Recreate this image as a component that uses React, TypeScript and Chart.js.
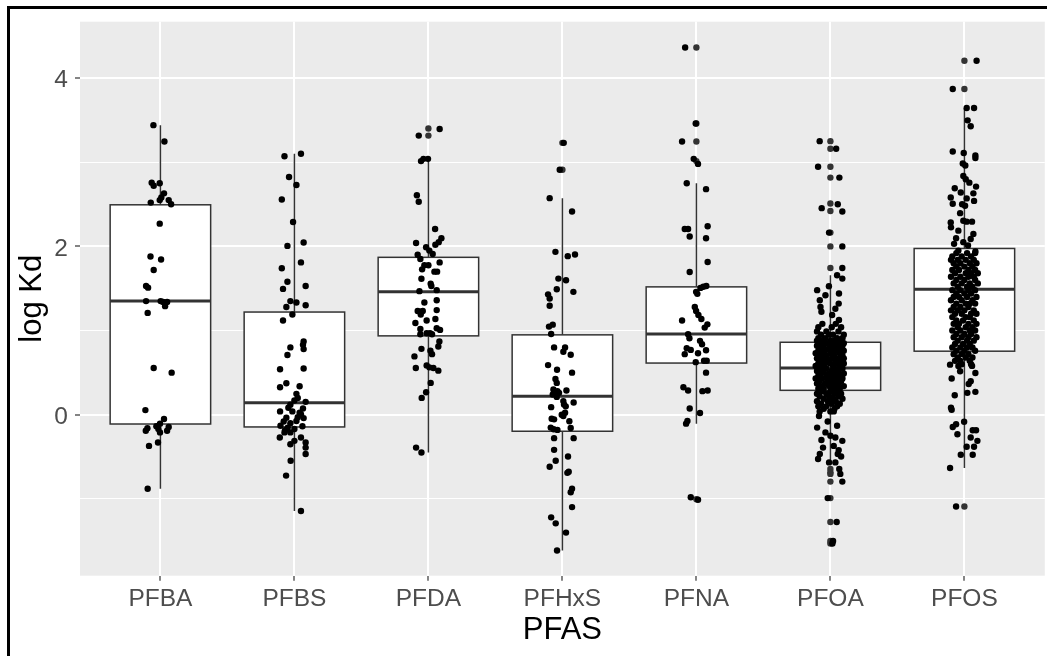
import React, { useEffect, useRef } from "react";
import { Chart, registerables } from "chart.js";

Chart.register(...registerables);

const categories = ["PFBA", "PFBS", "PFDA", "PFHxS", "PFNA", "PFOA", "PFOS"];
const yTickValues = [-1, 0, 1, 2, 3, 4];
const yTickLabels = ["", "0", "", "2", "", "4"];
const xTitle = "PFAS";
const yTitle = "log Kd";

// box statistics per category
const whiskerLow = [-0.88, -1.144, -0.448, -1.612, -0.106, -0.566, -0.633];
const q1 = [-0.11, -0.145, 0.937, -0.196, 0.614, 0.29, 0.755];
const median = [1.35, 0.142, 1.46, 0.22, 0.96, 0.555, 1.49];
const q3 = [2.494, 1.22, 1.87, 0.949, 1.519, 0.861, 1.975];
const whiskerHigh = [3.44, 3.1, 3.04, 2.573, 2.75, 1.657, 3.643];

// boxplot outliers (drawn on the category centre)
const pfbaOutliers: number[] = [];
const pfbsOutliers: number[] = [];
const pfdaOutliers = [3.4, 3.316];
const pfhxsOutliers = [3.23, 2.91];
const pfnaOutliers = [4.362, 3.46, 3.245, 3.013, -1.003];
const pfoaOutliers = [3.25, 3.16, 2.946, 2.817, 2.51, 2.42, 2.164, 2.0, 1.743, -0.644, -0.684, -0.703, -0.794, -0.99, -1.274, -1.5, -1.53];
const pfosOutliers = [4.205, 3.87, -1.09];

// jittered observations: [horizontal jitter, log Kd]
type Pt = [number, number];
const pfbaPoints: Pt[] = [
  [-0.052, 3.44], [0.03, 3.245], [-0.065, 2.757], [-0.05, 2.72], [-0.005, 2.75], [0.027, 2.63], [0.007, 2.58],
  [-0.005, 2.55], [0.062, 2.55], [-0.072, 2.52], [0.08, 2.5], [-0.005, 2.27], [-0.074, 1.88], [0.005, 1.845],
  [-0.05, 1.72], [-0.107, 1.53], [-0.092, 1.51], [-0.107, 1.35], [0.002, 1.35], [0.02, 1.34], [0.05, 1.34],
  [0.035, 1.29], [-0.095, 1.21], [-0.05, 0.555], [0.084, 0.5], [-0.112, 0.055], [0.027, -0.05], [-0.003, -0.106],
  [-0.03, -0.137], [0.062, -0.145], [-0.097, -0.16], [-0.109, -0.19], [-0.015, -0.17], [-0.003, -0.21],
  [0.05, -0.19], [-0.018, -0.33], [-0.085, -0.37], [-0.095, -0.88],
];
const pfbsPoints: Pt[] = [
  [-0.074, 3.07], [0.049, 3.1], [-0.04, 2.825], [0.015, 2.73], [-0.094, 2.557], [-0.01, 2.29], [-0.052, 2.006],
  [0.069, 2.046], [0.049, 1.81], [-0.094, 1.74], [-0.052, 1.58], [0.084, 1.53], [-0.085, 1.495], [-0.03, 1.35],
  [0.015, 1.333], [-0.06, 1.28], [0.084, 1.3], [-0.015, 1.19], [-0.085, 1.12], [0.069, 0.87], [0.064, 0.83],
  [0.069, 0.78], [-0.03, 0.8], [-0.052, 0.71], [-0.107, 0.54], [0.069, 0.55], [-0.06, 0.374], [-0.107, 0.327],
  [0.039, 0.338], [0.015, 0.248], [0.025, 0.2], [0, 0.17], [0.084, 0.153], [-0.03, 0.12], [0.064, 0.075],
  [-0.107, 0.04], [-0.015, 0.04], [0.049, 0.005], [0.025, -0.03], [-0.06, -0.035], [0.069, -0.04], [-0.08, -0.08],
  [-0.03, -0.1], [0.015, -0.075], [-0.104, -0.13], [0.06, -0.137], [-0.05, -0.153], [0, -0.17], [-0.074, -0.21],
  [-0.03, -0.21], [-0.109, -0.27], [0.049, -0.27], [0, -0.31], [0.084, -0.33], [-0.03, -0.35], [0.084, -0.39],
  [0.084, -0.467], [-0.028, -0.546], [-0.062, -0.723], [0.049, -1.144], [-0.07, -0.184], [0.039, 0.024], [-0.045, 0.083],
];
const pfdaPoints: Pt[] = [
  [-0.072, 3.316], [0.084, 3.395], [-0.055, 3.013], [-0.037, 3.04], [-0.003, 3.04], [-0.086, 2.608], [-0.072, 2.53],
  [0.05, 2.207], [0.097, 2.097], [0.077, 2.05], [-0.092, 2.04], [0.052, 2.02], [-0.017, 1.99], [0.007, 1.95],
  [0.032, 1.91], [-0.08, 1.9], [-0.06, 1.85], [0.084, 1.81], [-0.03, 1.775], [0.0, 1.775], [-0.047, 1.727],
  [0.045, 1.7], [0.065, 1.7], [-0.052, 1.616], [0.017, 1.557], [0.022, 1.53], [-0.067, 1.468], [0.062, 1.48],
  [-0.03, 1.333], [0.062, 1.36], [-0.08, 1.232], [-0.06, 1.223], [-0.042, 1.232], [0.062, 1.243], [-0.057, 1.19],
  [-0.097, 1.09], [-0.013, 1.12], [0.052, 1.137], [-0.06, 1.02], [0.062, 1.027], [0.087, 1.008], [-0.06, 0.956],
  [-0.013, 0.968], [0.012, 0.968], [0.027, 0.956], [0.082, 0.87], [0.074, 0.81], [-0.052, 0.783], [0.015, 0.76],
  [0.027, 0.72], [-0.104, 0.693], [-0.013, 0.586], [0.007, 0.563], [-0.094, 0.555], [0.037, 0.555], [0.074, 0.524],
  [0.017, 0.378], [-0.017, 0.268], [-0.05, 0.2], [-0.092, -0.39], [-0.052, -0.448],
];
const pfhxsPoints: Pt[] = [
  [0.01, 3.23], [-0.02, 2.91], [-0.095, 2.573], [0.072, 2.415], [-0.052, 1.935], [0.04, 1.884], [0.094, 1.904],
  [-0.03, 1.617], [0.027, 1.597], [-0.042, 1.49], [0.082, 1.46], [-0.107, 1.43], [-0.095, 1.38], [-0.095, 1.294],
  [-0.1, 1.047], [-0.072, 1.07], [-0.084, 0.96], [-0.062, 0.8], [0.02, 0.8], [0.007, 0.748], [0.062, 0.713],
  [-0.107, 0.59], [-0.04, 0.535], [0.072, 0.5], [-0.052, 0.425], [-0.042, 0.378], [-0.067, 0.3], [-0.052, 0.26],
  [-0.037, 0.28], [-0.072, 0.24], [-0.025, 0.26], [0.03, 0.288], [-0.042, 0.212], [0.007, 0.162], [0.084, 0.146],
  [0.012, 0.123], [-0.084, 0.09], [0.025, 0.1], [0.02, 0.024], [-0.005, 0], [0.007, -0.015], [-0.08, -0.047],
  [-0.062, -0.055], [0.052, -0.078], [-0.087, -0.153], [-0.065, -0.172], [-0.037, -0.18], [0.062, -0.157],
  [-0.062, -0.278], [0.084, -0.278], [-0.062, -0.417], [0.042, -0.496], [-0.05, -0.546], [-0.095, -0.617],
  [0.047, -0.676], [0.037, -0.69], [0.072, -0.88], [0.062, -0.92], [0.072, -1.097], [-0.084, -1.219],
  [-0.05, -1.29], [0.027, -1.4], [-0.04, -1.612],
];
const pfnaPoints: Pt[] = [
  [-0.084, 4.362], [-0.005, 3.46], [-0.107, 3.245], [-0.02, 3.04], [0.012, 2.98], [-0.072, 2.75], [0.072, 2.68],
  [-0.087, 2.207], [-0.062, 2.207], [0.084, 2.24], [-0.05, 2.117], [0.072, 2.097], [0.084, 1.814], [-0.05, 1.696],
  [0.052, 1.52], [0.074, 1.53], [0.03, 1.507], [-0.002, 1.46], [0.007, 1.436], [-0.012, 1.28], [-0.002, 1.232],
  [0.015, 1.185], [-0.107, 1.12], [0.037, 1.137], [0.082, 1.074], [0.062, 1.035], [-0.062, 0.956], [-0.052, 0.909],
  [0.027, 0.878], [0.042, 0.838], [-0.072, 0.79], [-0.042, 0.77], [0.072, 0.767], [-0.087, 0.72], [0.012, 0.73],
  [-0.005, 0.625], [0.057, 0.642], [0.077, 0.642], [0.072, 0.5], [-0.097, 0.327], [-0.062, 0.288], [0.045, 0.28],
  [0.084, 0.288], [-0.05, 0.075], [0.027, 0.02], [-0.067, -0.074], [-0.077, -0.106], [-0.042, -0.98], [0.012, -1.01],
];
const pfoaPoints: Pt[] = [
  [-0.08, 3.25], [0.043, 3.16], [-0.092, 2.946], [0.067, 2.817], [0.055, 2.5], [-0.065, 2.454], [0.089, 2.415],
  [-0.01, 2.164], [0.089, 2.0], [0.089, 1.743], [0.05, 1.657], [0.089, 1.617], [-0.011, 1.527], [-0.099, 1.48],
  [-0.037, 1.42], [0.064, 1.44], [-0.079, 1.36], [0.062, 1.32], [-0.074, 1.28], [0.037, 1.26], [-0.067, 1.224],
  [0.013, 1.185], [0.064, 1.126],
  [-0.06, 1.08], [0.04, 1.08], [-0.09, 1.04], [0.01, 1.04], [0.08, 1.04], [-0.03, 0.99], [0.06, 0.99], [-0.1, 0.99],
  [-0.07, 0.95], [0.02, 0.95], [0.1, 0.95], [-0.01, 0.95], [-0.09, 0.91], [-0.04, 0.91], [0.05, 0.91], [0.09, 0.91],
  [-0.06, 0.88], [0.0, 0.88], [0.07, 0.88], [-0.1, 0.88], [0.03, 0.88], [-0.08, 0.85], [-0.02, 0.85], [0.04, 0.85],
  [0.1, 0.85], [-0.1, 0.82], [-0.05, 0.82], [0.01, 0.82], [0.06, 0.82], [0.09, 0.82], [-0.07, 0.79], [-0.01, 0.79],
  [0.03, 0.79], [0.08, 0.79], [-0.09, 0.76], [-0.04, 0.76], [0.02, 0.76], [0.05, 0.76], [0.1, 0.76], [-0.06, 0.73],
  [0.0, 0.73], [0.07, 0.73], [-0.11, 0.73], [-0.08, 0.7], [-0.03, 0.7], [0.03, 0.7], [0.09, 0.7], [-0.1, 0.67],
  [-0.05, 0.67], [0.01, 0.67], [0.06, 0.67], [0.1, 0.67], [-0.07, 0.64], [-0.02, 0.64], [0.04, 0.64], [0.08, 0.64],
  [-0.09, 0.61], [-0.04, 0.61], [0.0, 0.61], [0.05, 0.61], [0.1, 0.61], [-0.06, 0.58], [0.02, 0.58], [0.07, 0.58],
  [-0.11, 0.58], [-0.08, 0.55], [-0.03, 0.55], [0.03, 0.55], [0.09, 0.55], [-0.1, 0.52], [-0.05, 0.52], [0.01, 0.52],
  [0.06, 0.52], [-0.07, 0.49], [-0.01, 0.49], [0.04, 0.49], [0.1, 0.49], [-0.09, 0.46], [-0.03, 0.46], [0.02, 0.46],
  [0.07, 0.46], [-0.06, 0.43], [0.0, 0.43], [0.05, 0.43], [0.09, 0.43], [-0.11, 0.43], [-0.08, 0.4], [-0.02, 0.4],
  [0.03, 0.4], [0.08, 0.4], [-0.1, 0.37], [-0.04, 0.37], [0.01, 0.37], [0.06, 0.37], [-0.07, 0.34], [-0.01, 0.34],
  [0.04, 0.34], [0.1, 0.34], [-0.09, 0.31], [-0.05, 0.31], [0.02, 0.31], [0.07, 0.31], [-0.06, 0.28], [0.0, 0.28],
  [0.05, 0.28], [-0.1, 0.25], [-0.03, 0.25], [0.03, 0.25], [0.08, 0.25], [-0.08, 0.22], [-0.01, 0.22], [0.06, 0.22],
  [-0.05, 0.19], [0.02, 0.19], [0.09, 0.19], [-0.1, 0.16], [-0.02, 0.16], [0.04, 0.16], [-0.07, 0.13], [0.01, 0.13],
  [0.07, 0.13], [-0.09, 0.1], [-0.03, 0.1], [0.05, 0.1], [-0.05, 0.07], [0.03, 0.07], [-0.08, 0.04], [0.0, 0.04],
  [-0.085, -0.015], [0.025, 0.04], [-0.099, -0.153], [-0.02, -0.08], [0.05, -0.13], [-0.037, -0.21], [0.0, -0.25],
  [0.037, -0.27], [-0.067, -0.3], [0.089, -0.31], [-0.055, -0.39], [0.025, -0.37], [0.062, -0.42], [0.055, -0.467],
  [0.08, -0.496], [-0.079, -0.467], [-0.092, -0.526], [-0.01, -0.566], [0.037, -0.566],
  [0.066, -0.644], [0.074, -0.703], [0.089, -0.794], [-0.02, -0.99], [0.047, -1.274], [0.02, -1.5], [0.015, -1.53],
];
const pfosPoints: Pt[] = [
  [0.091, 4.205], [-0.087, 3.87], [0.017, 3.643], [0.072, 3.643], [0.024, 3.497], [0.047, 3.427], [-0.087, 3.127],
  [-0.005, 3.11], [0.082, 3.08], [0.082, 3.05], [-0.012, 2.985], [0.007, 2.96], [-0.008, 2.836], [0.01, 2.797],
  [0.037, 2.757], [-0.072, 2.69], [0.087, 2.71], [-0.027, 2.64], [0.067, 2.63], [-0.102, 2.58], [0.017, 2.57],
  [0.072, 2.54], [-0.087, 2.506], [-0.017, 2.5], [0.005, 2.483], [-0.032, 2.395], [-0.008, 2.305], [0.017, 2.294],
  [0.057, 2.294], [-0.102, 2.285], [-0.1, 2.226], [-0.045, 2.187], [0.067, 2.148], [-0.062, 2.097], [0.047, 2.088],
  [-0.008, 2.05], [-0.077, 2.03], [0.027, 2.01], [0.082, 1.94], [-0.045, 1.95],
  [-0.06, 1.92], [0.02, 1.92], [0.08, 1.92], [-0.09, 1.88], [-0.02, 1.88], [0.05, 1.88], [-0.05, 1.84], [0.01, 1.84],
  [0.07, 1.84], [-0.1, 1.84], [-0.08, 1.8], [-0.03, 1.8], [0.04, 1.8], [0.09, 1.8], [-0.06, 1.76], [0.0, 1.76],
  [0.06, 1.76], [-0.09, 1.72], [-0.04, 1.72], [0.03, 1.72], [0.08, 1.72], [-0.07, 1.68], [0.01, 1.68], [0.05, 1.68],
  [0.1, 1.68], [-0.1, 1.64], [-0.03, 1.64], [0.03, 1.64], [0.07, 1.64], [-0.06, 1.6], [0.0, 1.6], [0.08, 1.6],
  [-0.08, 1.56], [-0.02, 1.56], [0.04, 1.56], [0.1, 1.56], [-0.05, 1.52], [0.02, 1.52], [0.06, 1.52], [-0.09, 1.48],
  [-0.03, 1.48], [0.03, 1.48], [0.08, 1.48], [-0.06, 1.44], [0.0, 1.44], [0.05, 1.44], [-0.08, 1.4], [-0.04, 1.4],
  [0.02, 1.4], [0.09, 1.4], [-0.1, 1.36], [-0.02, 1.36], [0.06, 1.36], [-0.06, 1.32], [0.01, 1.32], [0.04, 1.32],
  [0.08, 1.32], [-0.08, 1.28], [-0.03, 1.28], [0.03, 1.28], [-0.05, 1.24], [0.0, 1.24], [0.07, 1.24], [-0.1, 1.24],
  [-0.07, 1.2], [-0.02, 1.2], [0.05, 1.2], [0.09, 1.2], [-0.09, 1.16], [0.01, 1.16], [0.04, 1.16], [-0.06, 1.12],
  [-0.01, 1.12], [0.07, 1.12], [-0.08, 1.08], [-0.04, 1.08], [0.03, 1.08], [0.09, 1.08], [-0.05, 1.04], [0.01, 1.04],
  [0.06, 1.04], [-0.09, 1.0], [-0.03, 1.0], [0.04, 1.0], [0.08, 1.0], [-0.06, 0.96], [0.0, 0.96], [0.05, 0.96],
  [-0.08, 0.92], [-0.02, 0.92], [0.03, 0.92], [0.09, 0.92], [-0.05, 0.88], [0.02, 0.88], [0.07, 0.88], [-0.07, 0.84],
  [-0.01, 0.84], [0.04, 0.84], [-0.09, 0.8], [-0.03, 0.8], [0.02, 0.8], [0.06, 0.8], [-0.06, 0.76], [0.0, 0.76],
  [0.08, 0.76], [-0.08, 0.72], [-0.02, 0.72], [0.03, 0.72], [-0.05, 0.68], [0.01, 0.68], [0.06, 0.68], [-0.07, 0.64],
  [-0.03, 0.64], [0.04, 0.64], [-0.02, 0.6], [0.05, 0.6],
  [-0.107, 0.595], [-0.045, 0.58], [0.057, 0.58], [0.082, 0.496], [-0.032, 0.516], [-0.095, 0.43], [0.047, 0.398],
  [0.032, 0.366], [0.082, 0.272], [0.022, 0.26], [-0.072, 0.232], [-0.1, 0.083], [-0.095, 0.06], [-0.002, -0.083],
  [-0.087, -0.145], [-0.062, -0.113], [-0.052, -0.232], [0.062, -0.184], [0.087, -0.184], [0.047, -0.27],
  [0.097, -0.31], [0.017, -0.381], [0.072, -0.381], [-0.027, -0.475], [0.062, -0.475], [-0.107, -0.633], [-0.062, -1.09],
];

const jitterGroups = [pfbaPoints, pfbsPoints, pfdaPoints, pfhxsPoints, pfnaPoints, pfoaPoints, pfosPoints];
const outlierGroups = [pfbaOutliers, pfbsOutliers, pfdaOutliers, pfhxsOutliers, pfnaOutliers, pfoaOutliers, pfosOutliers];

const BOX_WIDTH = 0.75;
const FONT = "'Liberation Sans', Arial, sans-serif";
const POINT_R = 3.2;

const panelBg = {
  id: "panelBg",
  beforeDraw(chart: any) {
    const { ctx, chartArea: a } = chart;
    ctx.save();
    ctx.fillStyle = "#EBEBEB";
    ctx.fillRect(a.left, a.top, a.right - a.left, a.bottom - a.top);
    ctx.restore();
  },
};

const boxPlugin = {
  id: "boxes",
  beforeDatasetsDraw(chart: any) {
    const { ctx } = chart;
    const xs = chart.scales.x;
    const ys = chart.scales.y;
    ctx.save();
    ctx.strokeStyle = "#333333";
    categories.forEach((_, i) => {
      const c = xs.getPixelForValue(i + 1);
      const l = xs.getPixelForValue(i + 1 - BOX_WIDTH / 2);
      const r = xs.getPixelForValue(i + 1 + BOX_WIDTH / 2);
      const yLo = ys.getPixelForValue(whiskerLow[i]);
      const yQ1 = ys.getPixelForValue(q1[i]);
      const yMed = ys.getPixelForValue(median[i]);
      const yQ3 = ys.getPixelForValue(q3[i]);
      const yHi = ys.getPixelForValue(whiskerHigh[i]);
      ctx.lineWidth = 1.5;
      ctx.beginPath();
      ctx.moveTo(c, yHi);
      ctx.lineTo(c, yQ3);
      ctx.moveTo(c, yQ1);
      ctx.lineTo(c, yLo);
      ctx.stroke();
      ctx.fillStyle = "#FFFFFF";
      ctx.fillRect(l, yQ3, r - l, yQ1 - yQ3);
      ctx.strokeRect(l, yQ3, r - l, yQ1 - yQ3);
      ctx.lineWidth = 3;
      ctx.beginPath();
      ctx.moveTo(l, yMed);
      ctx.lineTo(r, yMed);
      ctx.stroke();
    });
    ctx.restore();
  },
};

export default function App() {
  const ref = useRef<HTMLCanvasElement>(null);
  useEffect(() => {
    const jitterData = jitterGroups.flatMap((g, i) => g.map(([dx, y]) => ({ x: i + 1 + dx, y })));
    const outlierData = outlierGroups.flatMap((g, i) => g.map((y) => ({ x: i + 1, y })));
    const isMajor = (v: number) => yTickLabels[yTickValues.indexOf(v)] !== "";
    const chart = new Chart(ref.current as HTMLCanvasElement, {
      type: "scatter",
      data: {
        datasets: [
          { data: jitterData, backgroundColor: "#000000", pointRadius: POINT_R, borderWidth: 0, pointHoverRadius: POINT_R },
          { data: outlierData, backgroundColor: "#333333", pointRadius: POINT_R, borderWidth: 0, pointHoverRadius: POINT_R },
        ],
      },
      options: {
        responsive: false,
        animation: false,
        devicePixelRatio: 1,
        events: [],
        layout: { padding: { top: 18, left: 0, right: 0, bottom: 0 } },
        plugins: { legend: { display: false }, tooltip: { enabled: false } },
        scales: {
          x: {
            type: "linear",
            min: 0.4,
            max: 7.6,
            afterBuildTicks: (s: any) => {
              s.ticks = categories.map((_, i) => ({ value: i + 1 }));
            },
            afterFit: (s: any) => {
              s.height = 80.3;
            },
            ticks: {
              callback: (v: any) => categories[Number(v) - 1] ?? "",
              color: "#4D4D4D",
              font: { family: FONT, size: 24.5 },
              padding: 4,
              maxRotation: 0,
              autoSkip: false,
            },
            grid: { color: "#FFFFFF", lineWidth: 2, tickColor: "#333333", tickLength: 5, tickWidth: 1.2 },
            border: { display: false },
            title: {
              display: true,
              text: xTitle,
              color: "#000000",
              font: { family: FONT, size: 31 },
              padding: { top: 0, bottom: 7.4 },
            },
          },
          y: {
            type: "linear",
            min: -1.912,
            max: 4.669,
            afterBuildTicks: (s: any) => {
              s.ticks = yTickValues.map((v) => ({ value: v }));
            },
            afterFit: (s: any) => {
              s.width = 80;
            },
            ticks: {
              callback: (v: any) => yTickLabels[yTickValues.indexOf(Number(v))] ?? "",
              color: "#4D4D4D",
              font: { family: FONT, size: 24.5 },
              padding: 7,
              labelOffset: 2.5,
              autoSkip: false,
            },
            grid: {
              color: "#FFFFFF",
              lineWidth: (c: any) => (c.tick && isMajor(c.tick.value) ? 2 : 1),
              tickColor: (c: any) => (c.tick && isMajor(c.tick.value) ? "#333333" : "rgba(0,0,0,0)"),
              tickLength: 5,
              tickWidth: 1.2,
            },
            border: { display: false },
            title: {
              display: true,
              text: yTitle,
              color: "#000000",
              font: { family: FONT, size: 31 },
              padding: { top: 14.2, bottom: 0 },
            },
          },
        },
      },
      plugins: [panelBg, boxPlugin],
    } as any);
    return () => chart.destroy();
  }, []);

  return (
    <div style={{ position: "fixed", left: 0, top: 0, width: 1047, height: 656, overflow: "hidden", background: "#FFFFFF" }}>
      <canvas
        ref={ref}
        width={1048}
        height={656}
        style={{ position: "absolute", left: 0, top: 0, width: 1048, height: 656 }}
      />
      <div
        style={{
          position: "absolute",
          left: 7,
          top: 6,
          width: 2000,
          height: 2000,
          borderLeft: "3px solid #000000",
          borderTop: "3px solid #000000",
          pointerEvents: "none",
        }}
      />
    </div>
  );
}
